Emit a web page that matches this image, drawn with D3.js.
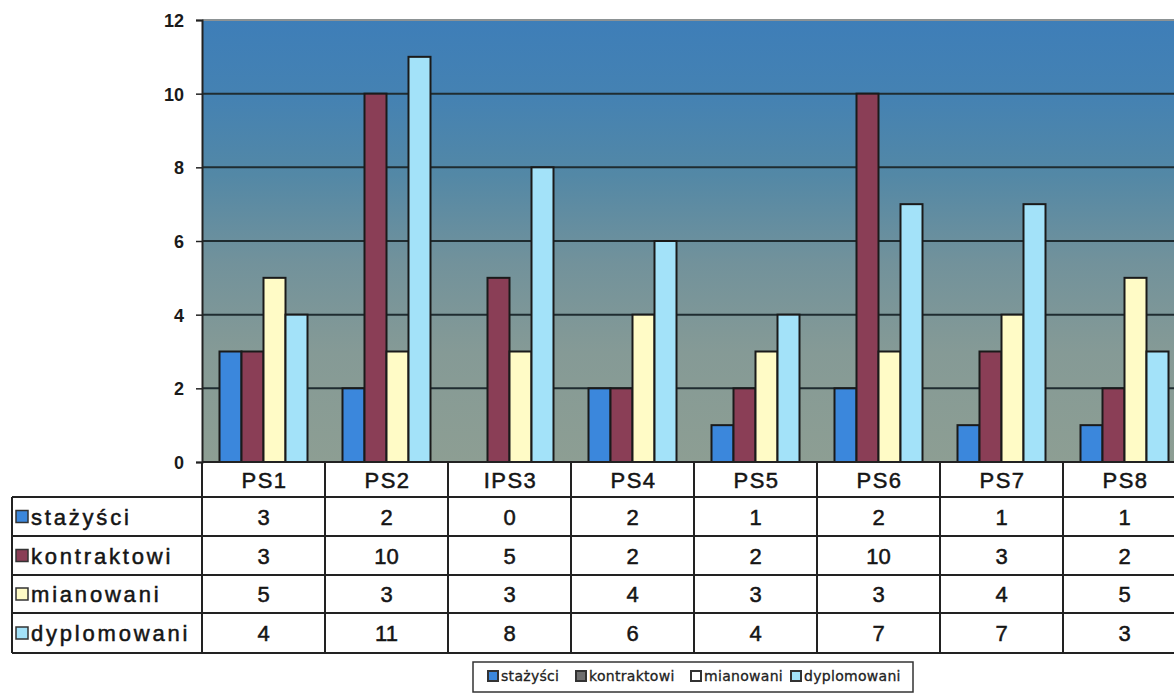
<!DOCTYPE html>
<html><head><meta charset="utf-8">
<script src="https://cdn.jsdelivr.net/npm/d3@7/dist/d3.min.js"></script>
<style>body{margin:0;background:#fff;}svg{display:block;}</style>
</head><body>
<svg id="c" width="1174" height="695"></svg>
<script>
const categories = ["PS1","PS2","IPS3","PS4","PS5","PS6","PS7","PS8"];
const seriesNames = ["stażyści","kontraktowi","mianowani","dyplomowani"];
const stazysci    = [3,2,0,2,1,2,1,1];
const kontraktowi = [3,10,5,2,2,10,3,2];
const mianowani   = [5,3,3,4,3,3,4,5];
const dyplomowani = [4,11,8,6,4,7,7,3];
const yTicks = [0,2,4,6,8,10,12];
const colors = ["#3b87dc","#8a3e56","#fffbc6","#a3e2f9"];
const legendColors = ["#3b87dc","#6e6e6e","#ffffff","#a3e2f9"];
const seriesValues = [stazysci,kontraktowi,mianowani,dyplomowani];

const svg = d3.select("#c");
const left = 202, colW = 123;
const FONT = "Liberation Sans, Arial, sans-serif";
const x = d3.scaleBand().domain(categories).range([left, left + colW*categories.length]).padding(0);
const xs = d3.scaleBand().domain(seriesNames).range([17.5, 105.5]).padding(0);
const y = d3.scaleLinear().domain([0,12]).range([462,20]);

// background gradient
const defs = svg.append("defs");
const g = defs.append("linearGradient").attr("id","bg").attr("x1",0).attr("y1",0).attr("x2",0).attr("y2",1);
[[0,"#3e7eb8"],[0.18,"#4582b2"],[0.35,"#5388a6"],[0.55,"#72929b"],[0.75,"#859a96"],[1,"#8d9e93"]].forEach(s=>g.append("stop").attr("offset",s[0]).attr("stop-color",s[1]));
svg.append("rect").attr("x",left).attr("y",y(12)).attr("width",1174-left).attr("height",y(0)-y(12)).attr("fill","url(#bg)");

// gridlines
svg.append("g").selectAll("line").data(yTicks.filter(t=>t>0&&t<12)).join("line")
  .attr("x1",left).attr("x2",1174).attr("y1",d=>y(d)).attr("y2",d=>y(d))
  .attr("stroke","#1f2c31").attr("stroke-width",2);
svg.append("line").attr("x1",left).attr("x2",1174).attr("y1",y(12)).attr("y2",y(12)).attr("stroke","#8c9294").attr("stroke-width",2);

// bars
const rows = categories.map((c,i)=>({cat:c, vals:seriesNames.map((s,j)=>({s, v:seriesValues[j][i], j}))}));
const grp = svg.append("g").selectAll("g").data(rows).join("g").attr("transform",d=>`translate(${x(d.cat)},0)`);
grp.selectAll("rect").data(d=>d.vals.filter(v=>v.v>0)).join("rect")
  .attr("x",d=>xs(d.s)).attr("width",xs.bandwidth())
  .attr("y",d=>y(d.v)).attr("height",d=>y(0)-y(d.v))
  .attr("fill",d=>colors[d.j]).attr("stroke","#1a1a1a").attr("stroke-width",2);

// y axis
const yAxis = d3.axisLeft(y).tickValues(yTicks).tickSize(6).tickPadding(12);
const ax = svg.append("g").attr("transform",`translate(${left},0)`).call(yAxis);
ax.attr("font-size",null).attr("font-family",null);
ax.select(".domain").attr("stroke","#222").attr("stroke-width",2);
ax.selectAll(".tick line").attr("stroke","#222").attr("stroke-width",1.5);
ax.selectAll(".tick text").style("font-family",FONT).style("font-size","18px").style("font-weight","bold").attr("fill","#1a1a1a").attr("dy","0.36em");

// data table
const rowY = [462,497,536,575,613,653];
const tg = svg.append("g");
const lineC = "#222";
function txt(sel){ return sel.style("font-family",FONT).style("font-size","22px").attr("fill","#151515").attr("stroke","#151515").attr("stroke-width",0.5); }
categories.forEach((c,i)=>{
  const x0 = x(c);
  txt(tg.append("text").attr("x",x0+colW/2+1).attr("y",(rowY[0]+rowY[1])/2+8).attr("text-anchor","middle")
    .style("letter-spacing","1.5px")).text(c);
});
d3.range(categories.length+1).forEach(i=>{
  const xx = left + i*colW;
  tg.append("line").attr("x1",xx).attr("x2",xx).attr("y1",rowY[0]).attr("y2",rowY[5]).attr("stroke",lineC).attr("stroke-width",2);
});
tg.append("line").attr("x1",12).attr("x2",12).attr("y1",rowY[1]).attr("y2",rowY[5]).attr("stroke",lineC).attr("stroke-width",2);
rowY.forEach((yy,i)=>{
  tg.append("line").attr("x1",i===0?left:12).attr("x2",1174).attr("y1",yy).attr("y2",yy).attr("stroke",lineC).attr("stroke-width",2);
});
seriesNames.forEach((s,j)=>{
  const cy = (rowY[j+1]+rowY[j+2])/2;
  tg.append("rect").attr("x",16).attr("y",cy-6).attr("width",12).attr("height",12)
    .attr("fill",colors[j]).attr("stroke","#333").attr("stroke-width",1.5);
  txt(tg.append("text").attr("x",31).attr("y",cy+8).style("letter-spacing","2.8px")).text(s);
  seriesValues[j].forEach((v,i)=>{
    txt(tg.append("text").attr("x",x(categories[i])+colW/2).attr("y",cy+8).attr("text-anchor","middle")).text(v);
  });
});

// legend
const lg = svg.append("g");
lg.append("rect").attr("x",473).attr("y",662).attr("width",440).attr("height",30).attr("fill","#fff").attr("stroke","#333").attr("stroke-width",1.5);
const legX = [488, 576, 691, 791];
seriesNames.forEach((s,j)=>{
  lg.append("rect").attr("x",legX[j]).attr("y",671).attr("width",10).attr("height",10)
    .attr("fill",legendColors[j]).attr("stroke","#333").attr("stroke-width",2);
  lg.append("text").attr("x",legX[j]+13).attr("y",681).style("font-family","DejaVu Sans, sans-serif")
    .style("font-size","14px").style("letter-spacing","0.3px").attr("fill","#222").attr("stroke","#222").attr("stroke-width",0.3).text(s);
});
</script>
</body></html>
